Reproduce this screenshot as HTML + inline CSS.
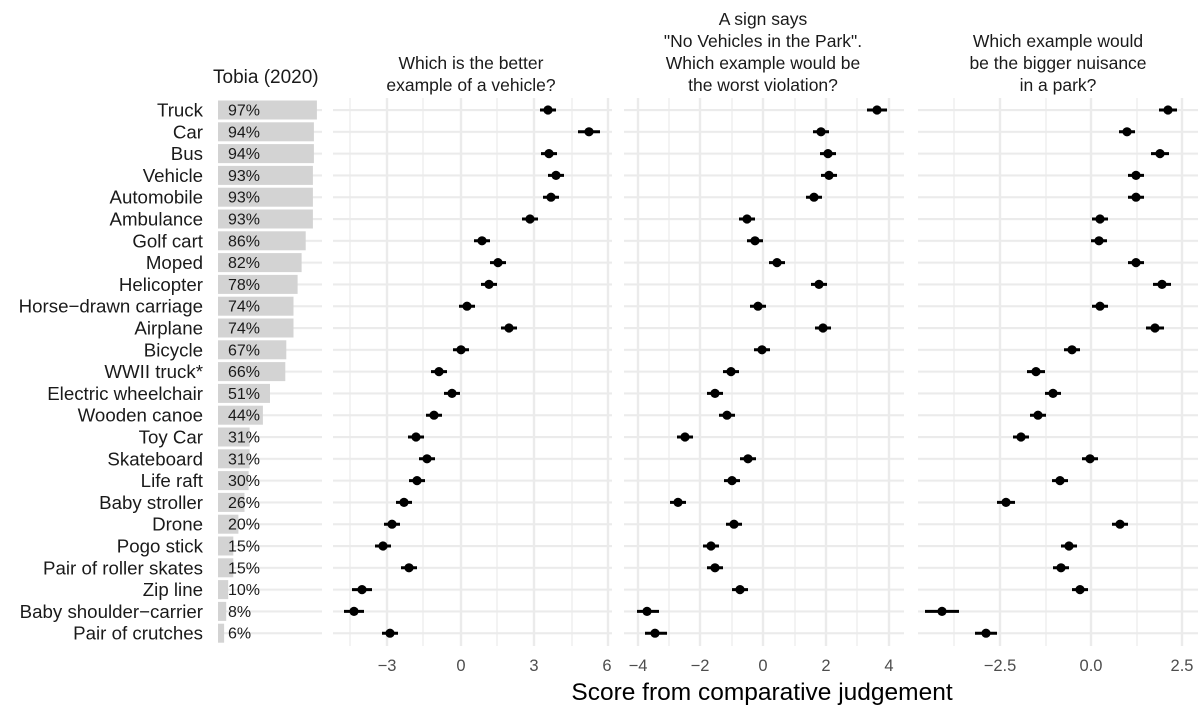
<!DOCTYPE html>
<html><head><meta charset="utf-8"><style>
html,body{margin:0;padding:0;background:#fff;}
svg{display:block;font-family:"Liberation Sans",sans-serif;}
</style></head><body>
<svg width="1200" height="712" viewBox="0 0 1200 712" xmlns="http://www.w3.org/2000/svg">
<defs>
<pattern id="hl" patternUnits="userSpaceOnUse" x="0" y="0" width="10" height="21.8">
<rect x="0" y="-0.1" width="10" height="2.2" fill="#ebebeb"/>
</pattern>
</defs>
<rect width="1200" height="712" fill="#fff"/>
<rect x="333" y="99" width="279" height="546" fill="url(#hl)"/>
<rect x="624" y="99" width="280" height="546" fill="url(#hl)"/>
<rect x="918" y="99" width="280" height="546" fill="url(#hl)"/>
<rect x="218" y="99" width="104" height="546" fill="url(#hl)"/>
<g stroke="#ebebeb">
<g stroke-width="1.2">
<line x1="350" x2="350" y1="98" y2="646"/><line x1="423" x2="423" y1="98" y2="646"/><line x1="497" x2="497" y1="98" y2="646"/><line x1="572" x2="572" y1="98" y2="646"/>
<line x1="669" x2="669" y1="98" y2="646"/><line x1="732" x2="732" y1="98" y2="646"/><line x1="795" x2="795" y1="98" y2="646"/><line x1="857" x2="857" y1="98" y2="646"/>
<line x1="954" x2="954" y1="98" y2="646"/><line x1="1046" x2="1046" y1="98" y2="646"/><line x1="1137" x2="1137" y1="98" y2="646"/>
</g>
<g stroke-width="2.4">
<line x1="387" x2="387" y1="98" y2="646"/><line x1="461" x2="461" y1="98" y2="646"/><line x1="534" x2="534" y1="98" y2="646"/><line x1="608" x2="608" y1="98" y2="646"/>
<line x1="638" x2="638" y1="98" y2="646"/><line x1="700" x2="700" y1="98" y2="646"/><line x1="763" x2="763" y1="98" y2="646"/><line x1="826" x2="826" y1="98" y2="646"/><line x1="889" x2="889" y1="98" y2="646"/>
<line x1="1000" x2="1000" y1="98" y2="646"/><line x1="1091" x2="1091" y1="98" y2="646"/><line x1="1182" x2="1182" y1="98" y2="646"/>
</g>
</g>
<g fill="#d3d3d3">
<rect x="218" y="100.5" width="98.9" height="19"/>
<rect x="218" y="122.3" width="95.9" height="19"/>
<rect x="218" y="144.1" width="95.9" height="19"/>
<rect x="218" y="165.9" width="94.9" height="19"/>
<rect x="218" y="187.7" width="94.9" height="19"/>
<rect x="218" y="209.5" width="94.9" height="19"/>
<rect x="218" y="231.3" width="87.7" height="19"/>
<rect x="218" y="253.1" width="83.6" height="19"/>
<rect x="218" y="274.9" width="79.6" height="19"/>
<rect x="218" y="296.7" width="75.5" height="19"/>
<rect x="218" y="318.5" width="75.5" height="19"/>
<rect x="218" y="340.3" width="68.3" height="19"/>
<rect x="218" y="362.1" width="67.3" height="19"/>
<rect x="218" y="383.9" width="52" height="19"/>
<rect x="218" y="405.7" width="44.9" height="19"/>
<rect x="218" y="427.5" width="31.6" height="19"/>
<rect x="218" y="449.3" width="31.6" height="19"/>
<rect x="218" y="471.1" width="30.6" height="19"/>
<rect x="218" y="492.9" width="26.5" height="19"/>
<rect x="218" y="514.7" width="20.4" height="19"/>
<rect x="218" y="536.5" width="15.3" height="19"/>
<rect x="218" y="558.3" width="15.3" height="19"/>
<rect x="218" y="580.1" width="10.2" height="19"/>
<rect x="218" y="601.9" width="8.2" height="19"/>
<rect x="218" y="623.7" width="6.1" height="19"/>
</g>
<g font-size="16" fill="#1a1a1a">
<text x="228" y="115.5">97%</text><text x="228" y="137.3">94%</text><text x="228" y="159.1">94%</text><text x="228" y="180.9">93%</text><text x="228" y="202.7">93%</text><text x="228" y="224.5">93%</text><text x="228" y="246.3">86%</text><text x="228" y="268.1">82%</text><text x="228" y="289.9">78%</text><text x="228" y="311.7">74%</text><text x="228" y="333.5">74%</text><text x="228" y="355.3">67%</text><text x="228" y="377.1">66%</text><text x="228" y="398.9">51%</text><text x="228" y="420.7">44%</text><text x="228" y="442.5">31%</text><text x="228" y="464.3">31%</text><text x="228" y="486.1">30%</text><text x="228" y="507.9">26%</text><text x="228" y="529.7">20%</text><text x="228" y="551.5">15%</text><text x="228" y="573.3">15%</text><text x="228" y="595.1">10%</text><text x="228" y="616.9">8%</text><text x="228" y="638.7">6%</text>
</g>
<g font-size="18.7" fill="#1a1a1a" text-anchor="end">
<text x="203" y="116.5">Truck</text><text x="203" y="138.3">Car</text><text x="203" y="160.1">Bus</text><text x="203" y="181.9">Vehicle</text><text x="203" y="203.7">Automobile</text><text x="203" y="225.5">Ambulance</text><text x="203" y="247.3">Golf cart</text><text x="203" y="269.1">Moped</text><text x="203" y="290.9">Helicopter</text><text x="203" y="312.7">Horse−drawn carriage</text><text x="203" y="334.5">Airplane</text><text x="203" y="356.3">Bicycle</text><text x="203" y="378.1">WWII truck*</text><text x="203" y="399.9">Electric wheelchair</text><text x="203" y="421.7">Wooden canoe</text><text x="203" y="443.5">Toy Car</text><text x="203" y="465.3">Skateboard</text><text x="203" y="487.1">Life raft</text><text x="203" y="508.9">Baby stroller</text><text x="203" y="530.7">Drone</text><text x="203" y="552.5">Pogo stick</text><text x="203" y="574.3">Pair of roller skates</text><text x="203" y="596.1">Zip line</text><text x="203" y="617.9">Baby shoulder−carrier</text><text x="203" y="639.7">Pair of crutches</text>
</g>
<g stroke="#000" stroke-width="3" fill="none">
<path d="M540 110h16M578 131.8h22M541 153.6h16M548 175.4h16M543 197.2h16M522 219h16M474 240.8h16M490 262.6h16M481 284.4h16M459 306.2h16M501 328h16M453 349.8h16M431 371.6h16M444 393.4h16M426 415.2h16M408 437h16M419 458.8h16M409 480.6h16M396 502.4h16M384 524.2h16M375 546h16M401 567.8h16M352 589.6h20M344 611.4h20M382 633.2h16"/>
<path d="M867 110h20M813 131.8h16M820 153.6h16M821 175.4h16M806 197.2h16M739 219h16M747 240.8h16M769 262.6h16M811 284.4h16M750 306.2h16M815 328h16M754 349.8h16M723 371.6h16M707 393.4h16M719 415.2h16M677 437h16M740 458.8h16M724 480.6h16M670 502.4h16M726 524.2h16M703 546h16M707 567.8h16M732 589.6h16M637 611.4h22M645 633.2h22"/>
<path d="M1159 110h18M1119 131.8h16M1151 153.6h18M1128 175.4h16M1128 197.2h16M1092 219h16M1091 240.8h16M1128 262.6h16M1153 284.4h18M1092 306.2h16M1146 328h18M1064 349.8h16M1027 371.6h18M1045 393.4h16M1030 415.2h16M1013 437h16M1082 458.8h16M1052 480.6h16M997 502.4h18M1112 524.2h16M1061 546h16M1053 567.8h16M1072 589.6h16M925 611.4h34M975 633.2h22"/>
</g>
<g fill="#000">
<circle cx="548" cy="110" r="4.6"/><circle cx="589" cy="131.8" r="4.6"/><circle cx="549" cy="153.6" r="4.6"/><circle cx="556" cy="175.4" r="4.6"/><circle cx="551" cy="197.2" r="4.6"/><circle cx="530" cy="219" r="4.6"/><circle cx="482" cy="240.8" r="4.6"/><circle cx="498" cy="262.6" r="4.6"/><circle cx="489" cy="284.4" r="4.6"/><circle cx="467" cy="306.2" r="4.6"/><circle cx="509" cy="328" r="4.6"/><circle cx="461" cy="349.8" r="4.6"/><circle cx="439" cy="371.6" r="4.6"/><circle cx="452" cy="393.4" r="4.6"/><circle cx="434" cy="415.2" r="4.6"/><circle cx="416" cy="437" r="4.6"/><circle cx="427" cy="458.8" r="4.6"/><circle cx="417" cy="480.6" r="4.6"/><circle cx="404" cy="502.4" r="4.6"/><circle cx="392" cy="524.2" r="4.6"/><circle cx="383" cy="546" r="4.6"/><circle cx="409" cy="567.8" r="4.6"/><circle cx="362" cy="589.6" r="4.6"/><circle cx="354" cy="611.4" r="4.6"/><circle cx="390" cy="633.2" r="4.6"/>
<circle cx="877" cy="110" r="4.6"/><circle cx="821" cy="131.8" r="4.6"/><circle cx="828" cy="153.6" r="4.6"/><circle cx="829" cy="175.4" r="4.6"/><circle cx="814" cy="197.2" r="4.6"/><circle cx="747" cy="219" r="4.6"/><circle cx="755" cy="240.8" r="4.6"/><circle cx="777" cy="262.6" r="4.6"/><circle cx="819" cy="284.4" r="4.6"/><circle cx="758" cy="306.2" r="4.6"/><circle cx="823" cy="328" r="4.6"/><circle cx="762" cy="349.8" r="4.6"/><circle cx="731" cy="371.6" r="4.6"/><circle cx="715" cy="393.4" r="4.6"/><circle cx="727" cy="415.2" r="4.6"/><circle cx="685" cy="437" r="4.6"/><circle cx="748" cy="458.8" r="4.6"/><circle cx="732" cy="480.6" r="4.6"/><circle cx="678" cy="502.4" r="4.6"/><circle cx="734" cy="524.2" r="4.6"/><circle cx="711" cy="546" r="4.6"/><circle cx="715" cy="567.8" r="4.6"/><circle cx="740" cy="589.6" r="4.6"/><circle cx="647" cy="611.4" r="4.6"/><circle cx="655" cy="633.2" r="4.6"/>
<circle cx="1168" cy="110" r="4.6"/><circle cx="1127" cy="131.8" r="4.6"/><circle cx="1160" cy="153.6" r="4.6"/><circle cx="1136" cy="175.4" r="4.6"/><circle cx="1136" cy="197.2" r="4.6"/><circle cx="1100" cy="219" r="4.6"/><circle cx="1099" cy="240.8" r="4.6"/><circle cx="1136" cy="262.6" r="4.6"/><circle cx="1162" cy="284.4" r="4.6"/><circle cx="1100" cy="306.2" r="4.6"/><circle cx="1155" cy="328" r="4.6"/><circle cx="1072" cy="349.8" r="4.6"/><circle cx="1036" cy="371.6" r="4.6"/><circle cx="1053" cy="393.4" r="4.6"/><circle cx="1038" cy="415.2" r="4.6"/><circle cx="1021" cy="437" r="4.6"/><circle cx="1090" cy="458.8" r="4.6"/><circle cx="1060" cy="480.6" r="4.6"/><circle cx="1006" cy="502.4" r="4.6"/><circle cx="1120" cy="524.2" r="4.6"/><circle cx="1069" cy="546" r="4.6"/><circle cx="1061" cy="567.8" r="4.6"/><circle cx="1080" cy="589.6" r="4.6"/><circle cx="942" cy="611.4" r="4.6"/><circle cx="986" cy="633.2" r="4.6"/>
</g>
<text x="213" y="83" font-size="19" fill="#1a1a1a">Tobia (2020)</text>
<g font-size="17.5" fill="#1a1a1a" text-anchor="middle">
<text x="471" y="69">Which is the better</text>
<text x="471" y="91">example of a vehicle?</text>
<text x="763" y="25">A sign says</text>
<text x="763" y="47">"No Vehicles in the Park".</text>
<text x="763" y="69">Which example would be</text>
<text x="763" y="91">the worst violation?</text>
<text x="1058" y="47">Which example would</text>
<text x="1058" y="69">be the bigger nuisance</text>
<text x="1058" y="91">in a park?</text>
</g>
<g font-size="16.5" fill="#4d4d4d" text-anchor="middle">
<text x="387" y="671">−3</text><text x="461" y="671">0</text><text x="534" y="671">3</text><text x="607" y="671">6</text>
<text x="638" y="671">−4</text><text x="700" y="671">−2</text><text x="763" y="671">0</text><text x="826" y="671">2</text><text x="889" y="671">4</text>
<text x="1000" y="671">−2.5</text><text x="1091" y="671">0.0</text><text x="1182" y="671">2.5</text>
</g>
<text x="762" y="700" font-size="24.5" fill="#000" text-anchor="middle">Score from comparative judgement</text>
</svg>
</body></html>
